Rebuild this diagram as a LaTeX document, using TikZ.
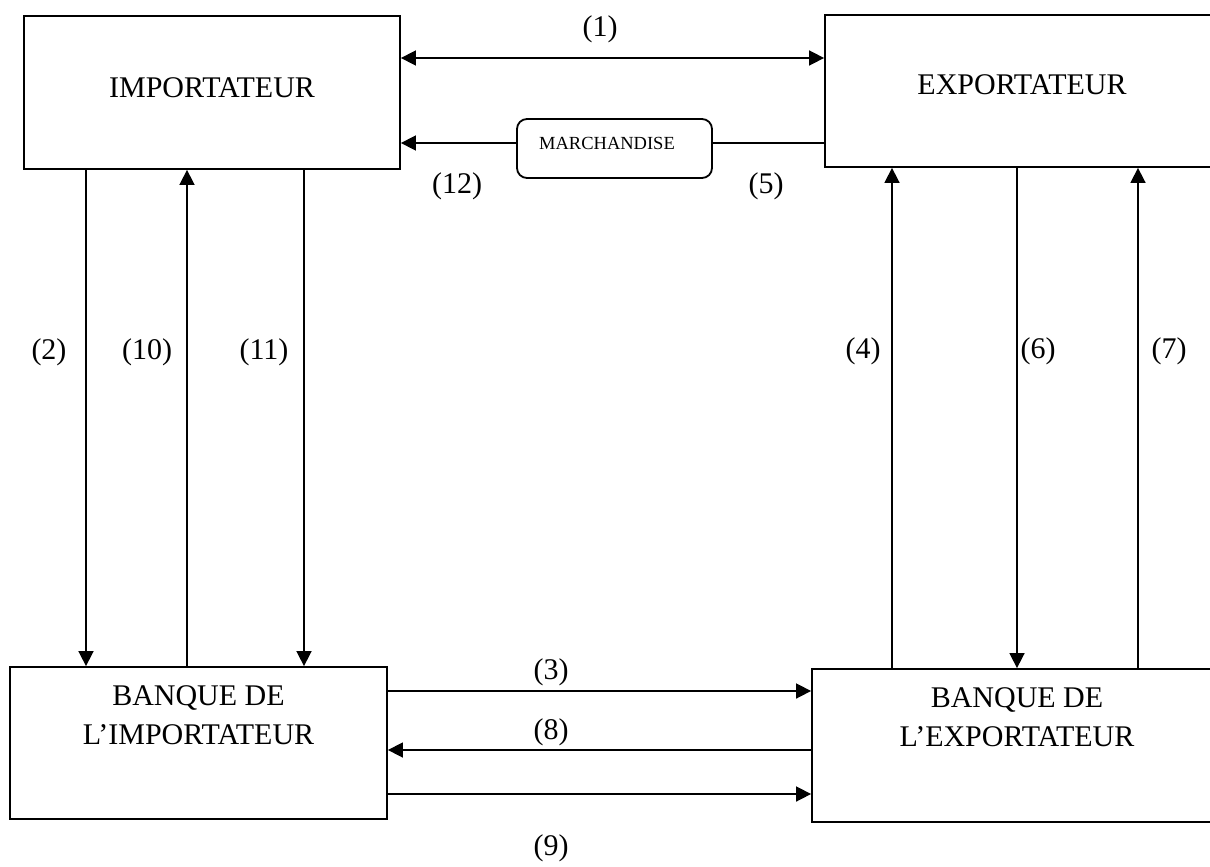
\documentclass[tikz,border=0pt]{standalone}
\usepackage{fontspec}
\setmainfont{Liberation Serif}
\usetikzlibrary{arrows.meta}

\tikzset{
  box/.style={draw, line width=1.8pt, inner sep=0pt},
  roundbox/.style={draw, line width=1.8pt, rounded corners=10pt, inner sep=0pt},
  txt/.style={font=\fontsize{30}{39}\selectfont, align=center, inner sep=0pt},
  small/.style={font=\fontsize{18.5}{22}\selectfont, inner sep=0pt},
  lbl/.style={font=\fontsize{30}{34}\selectfont, inner sep=0pt},
  conn/.style={line width=1.6pt, -{Triangle[length=15pt,width=15pt]}},
  dconn/.style={line width=1.6pt, {Triangle[length=15pt,width=15pt]}-{Triangle[length=15pt,width=15pt]}},
  plain/.style={line width=1.6pt}
}

\begin{document}
\begin{tikzpicture}[x=1pt, y=-1pt]
\useasboundingbox (0,0) rectangle (1210,867);
\clip (0,0) rectangle (1210,867);

% the four parties
\node[box, minimum width=376pt, minimum height=153pt] (imp) at (212,92.5) {};
\node[txt] (impt) at (212,88) {IMPORTATEUR};
\node[box, minimum width=394pt, minimum height=152pt] (exp) at (1022,91) {};
\node[txt] (expt) at (1022,85) {EXPORTATEUR};
\node[box, minimum width=377pt, minimum height=152pt] (bi) at (198.5,743) {};
\node[txt] (bit) at (198.5,715) {BANQUE DE\\L’IMPORTATEUR};
\node[box, minimum width=410pt, minimum height=153pt] (be) at (1017,745.5) {};
\node[txt] (bet) at (1017,717) {BANQUE DE\\L’EXPORTATEUR};

% goods in transit
\node[roundbox, minimum width=195pt, minimum height=59pt] (mk) at (614.5,148.5) {};
\node[small] (mkt) at (607,143) {MARCHANDISE};

% columns and rows of the connectors
\coordinate (c2) at (86,400);
\coordinate (c10) at (187,400);
\coordinate (c11) at (304,400);
\coordinate (c4) at (892,400);
\coordinate (c6) at (1017,400);
\coordinate (c7) at (1138,400);
\coordinate (r1) at (600,58);
\coordinate (r3) at (600,691);
\coordinate (r8) at (600,750);
\coordinate (r9) at (600,794);

% connectors
\draw[dconn] (imp.east |- r1) -- (exp.west |- r1);
\draw[conn] (mk.west |- mkt) -- (imp.east |- mkt);
\draw[plain] (mk.east |- mkt) -- (exp.west |- mkt);
\draw[conn] (imp.south -| c2) -- (bi.north -| c2);
\draw[conn] (bi.north -| c10) -- (imp.south -| c10);
\draw[conn] (imp.south -| c11) -- (bi.north -| c11);
\draw[conn] (be.north -| c4) -- (exp.south -| c4);
\draw[conn] (exp.south -| c6) -- (be.north -| c6);
\draw[conn] (be.north -| c7) -- (exp.south -| c7);
\draw[conn] (bi.east |- r3) -- (be.west |- r3);
\draw[conn] (be.west |- r8) -- (bi.east |- r8);
\draw[conn] (bi.east |- r9) -- (be.west |- r9);

% step numbers
\node[lbl] (l1) at (600,29) {(1)};
\node[lbl] (l12) at (457,186) {(12)};
\node[lbl] (l5) at (766,186) {(5)};
\node[lbl] (l2) at (49,352) {(2)};
\node[lbl] (l10) at (147,352) {(10)};
\node[lbl] (l11) at (264,352) {(11)};
\node[lbl] (l4) at (863,351) {(4)};
\node[lbl] (l6) at (1038,351) {(6)};
\node[lbl] (l7) at (1169,351) {(7)};
\node[lbl] (l3) at (551,672) {(3)};
\node[lbl] (l8) at (551,732) {(8)};
\node[lbl] (l9) at (551,848) {(9)};
\end{tikzpicture}
\end{document}
